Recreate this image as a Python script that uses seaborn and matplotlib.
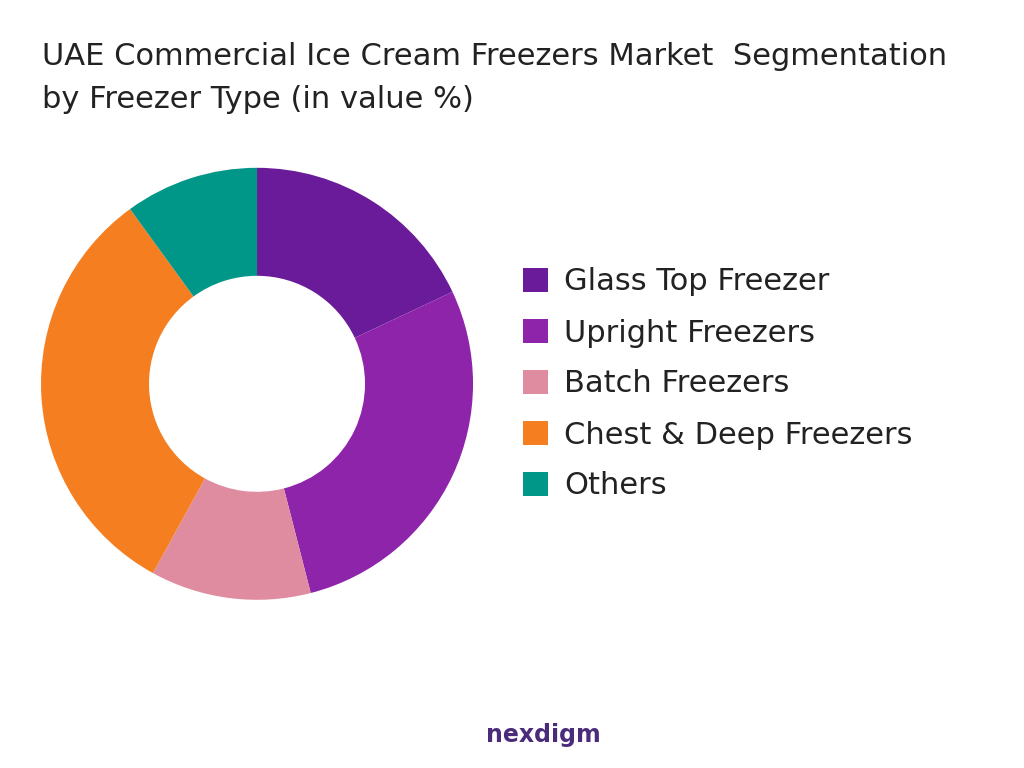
import matplotlib
matplotlib.use('Agg')
import matplotlib.pyplot as plt
import seaborn as sns

sns.set_theme(style='white')
plt.rcParams['font.family'] = ['DejaVu Sans']

segments = ['Glass Top Freezer', 'Upright Freezers', 'Batch Freezers',
            'Chest & Deep Freezers', 'Others']
shares = [18, 28, 12, 32, 10]
colors = ['#6A1B9A', '#8E24AA', '#E08CA0', '#F57F20', '#009688']

fig = plt.figure(figsize=(10.24, 7.68), dpi=100)
fig.patch.set_facecolor('white')
ax = fig.add_axes([0.04, 0.219, 0.422, 0.5625])
wedges, _ = ax.pie(shares, colors=colors, startangle=90, counterclock=False,
                   radius=1.0, wedgeprops=dict(width=0.5, edgecolor='none'))
ax.set_xlim(-1, 1)
ax.set_ylim(-1, 1)
ax.set_aspect('equal')

fig.text(0.041, 0.945, 'UAE Commercial Ice Cream Freezers Market  Segmentation\nby Freezer Type (in value %)',
         fontsize=22, color='#222222', va='top', linespacing=1.6)

fig.legend(wedges, segments, loc='center left', bbox_to_anchor=(0.484, 0.5),
           frameon=False, fontsize=22, handlelength=0.8, handleheight=0.8,
           handletextpad=0.55, labelspacing=0.72, labelcolor='#222222')

fig.text(0.475, 0.043, 'nexdigm', fontsize=17, fontweight='bold', color='#4A2C7A',
         ha='left', va='center')

fig.savefig('out.png', dpi=100)
